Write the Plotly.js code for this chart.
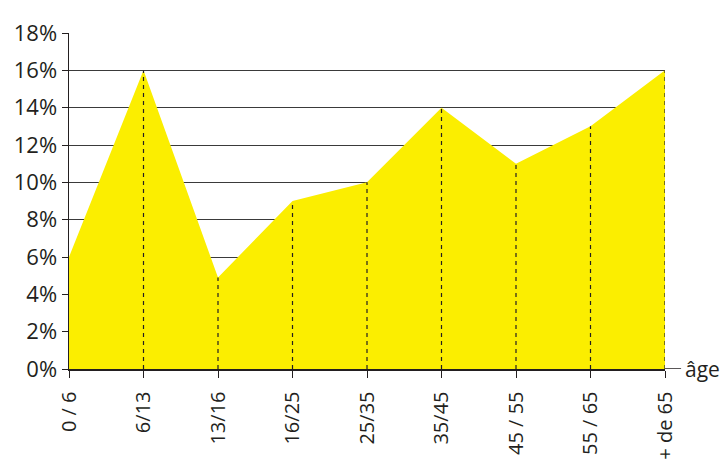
<!DOCTYPE html>
<html>
<head>
<meta charset="utf-8">
<script src="https://cdn.plot.ly/plotly-3.0.1.min.js"></script>
<style>body{margin:0;background:#fff}#chart{width:727px;height:461px}</style>
</head>
<body>
<div id="chart"></div>
<script>
const categories = ["0 / 6", "6/13", "13/16", "16/25", "25/35", "35/45", "45 / 55", "55 / 65", "+ de 65"];
const values = [6, 16, 4.9, 9, 10, 14, 11, 13, 16];
const yTickVals = [0, 2, 4, 6, 8, 10, 12, 14, 16, 18];
const yTickText = ["0%", "2%", "4%", "6%", "8%", "10%", "12%", "14%", "16%", "18%"];
const axisLabel = "âge";

const xIdx = categories.map((c, i) => i);
const dashX = [], dashY = [];
xIdx.forEach((i) => { dashX.push(i, i, null); dashY.push(0, values[i], null); });

const font = "'Open Sans', 'Noto Sans', sans-serif";
const traces = [
  {
    x: xIdx, y: values, type: "scatter", mode: "lines",
    fill: "tozeroy", fillcolor: "#FBEE00",
    line: {width: 0, color: "#FBEE00"}, hoverinfo: "skip", showlegend: false
  },
  {
    x: dashX.slice(3), y: dashY.slice(3), type: "scatter", mode: "lines",
    line: {color: "#231f20", width: 1.2, dash: "4px,4px"}, hoverinfo: "skip", showlegend: false
  }
];

const layout = {
  width: 727, height: 461,
  margin: {l: 69, r: 62, t: 33, b: 92},
  paper_bgcolor: "#fff", plot_bgcolor: "#fff",
  font: {family: font, color: "#231f20"},
  xaxis: {
    range: [0, 8], tickvals: xIdx, ticktext: categories,
    tickangle: -90, tickfont: {size: 20, family: font, color: "#231f20"},
    ticks: "outside", ticklen: 7, tickcolor: "#231f20", tickwidth: 1,
    ticklabelstandoff: 6,
    showgrid: false, zeroline: false, showline: true, linecolor: "#231f20", linewidth: 1.5,
    fixedrange: true
  },
  yaxis: {
    range: [0, 18], tickvals: yTickVals, ticktext: yTickText,
    tickfont: {size: 22, family: font, color: "#231f20"},
    ticks: "outside", ticklen: 6, tickcolor: "#231f20", tickwidth: 1,
    showgrid: true, gridcolor: "#3a3a3a", gridwidth: 1,
    zeroline: false, showline: true, linecolor: "#231f20", linewidth: 1.5,
    fixedrange: true
  },
  shapes: [
    {type: "line", xref: "paper", yref: "y", x0: 1, x1: 1.027, y0: 0, y1: 0, line: {color: "#231f20", width: 1.5}},
    {type: "line", xref: "paper", yref: "y", x0: 0, x1: 0, y0: 18, y1: 18.35, line: {color: "#231f20", width: 1.5}}
  ],
  annotations: [
    {xref: "paper", yref: "y", x: 1.03, y: 0, xanchor: "left", yanchor: "middle",
     text: axisLabel, showarrow: false, font: {size: 21, family: font, color: "#231f20"}}
  ]
};

Plotly.newPlot("chart", traces, layout, {displayModeBar: false, staticPlot: true});
</script>
</body>
</html>
